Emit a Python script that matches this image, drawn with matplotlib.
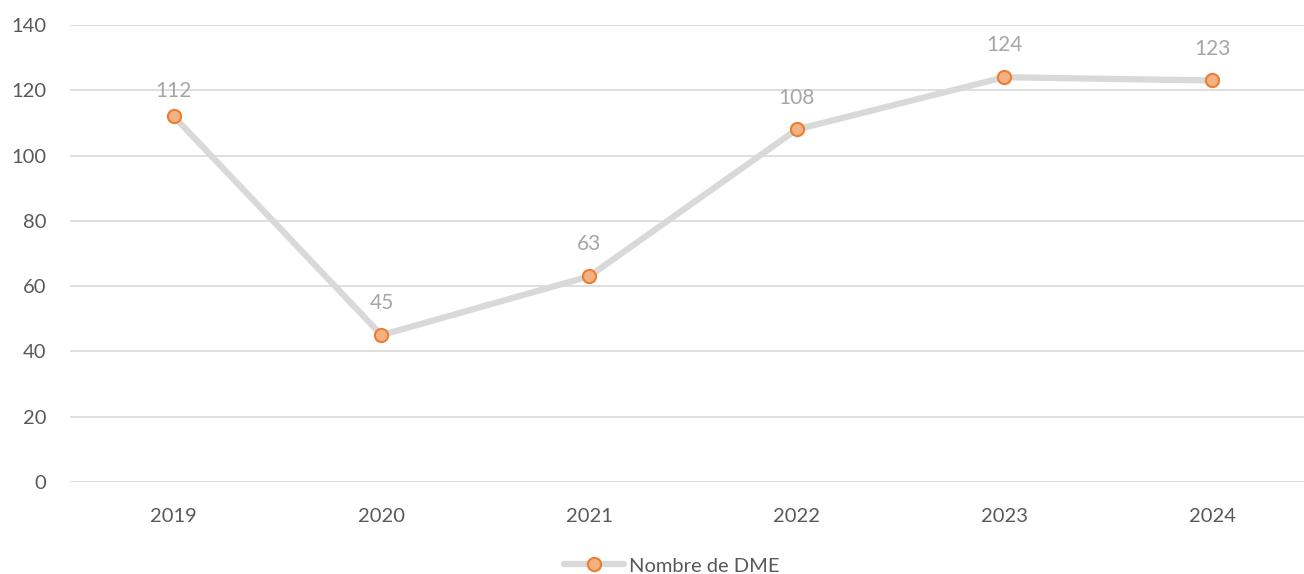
import matplotlib
matplotlib.use("Agg")
import matplotlib.pyplot as plt

years = ["2019", "2020", "2021", "2022", "2023", "2024"]
dme_counts = [112, 45, 63, 108, 124, 123]
y_ticks = [0, 20, 40, 60, 80, 100, 120, 140]

plt.rcParams['font.family'] = ['Lato', 'DejaVu Sans']

fig = plt.figure(figsize=(13.04, 5.74), dpi=100)
ax = fig.add_axes([70 / 1304, (574 - 482) / 574, 1 - 70 / 1304, (482 - 25) / 574])

x = list(range(len(years)))
ax.plot(x, dme_counts, color='#d9d9d9', linewidth=4.5, solid_capstyle='round',
        marker='o', markersize=9.5, markerfacecolor='#f4b183',
        markeredgecolor='#ed7d31', markeredgewidth=1.5, label='Nombre de DME', zorder=3)

# first label sits a bit lower in the original
label_offsets = [18, 23, 23, 23, 23, 23]
for xi, v, off in zip(x, dme_counts, label_offsets):
    ax.annotate(str(v), (xi, v), xytext=(0, off), textcoords='offset points',
                ha='center', va='center', fontsize=15, color='#a6a6a6')

ax.set_xlim(-0.5, (1304 - 173) / 207.8)
ax.set_ylim(0, 140)
ax.set_yticks(y_ticks)
ax.set_xticks(x)
ax.set_xticklabels(years)
ax.grid(axis='y', color='#d9d9d9', linewidth=1.2)
ax.set_axisbelow(True)
for s in ax.spines.values():
    s.set_visible(False)
ax.tick_params(axis='both', length=0, labelsize=14.5, colors='#595959')
ax.tick_params(axis='y', pad=17)
ax.tick_params(axis='x', pad=19)

fig.legend(loc='center', bbox_to_anchor=(672 / 1304, 0.014), frameon=False,
           fontsize=14.5, labelcolor='#595959', handlelength=3.0, handletextpad=0.25)

fig.savefig("out.png", dpi=100)
